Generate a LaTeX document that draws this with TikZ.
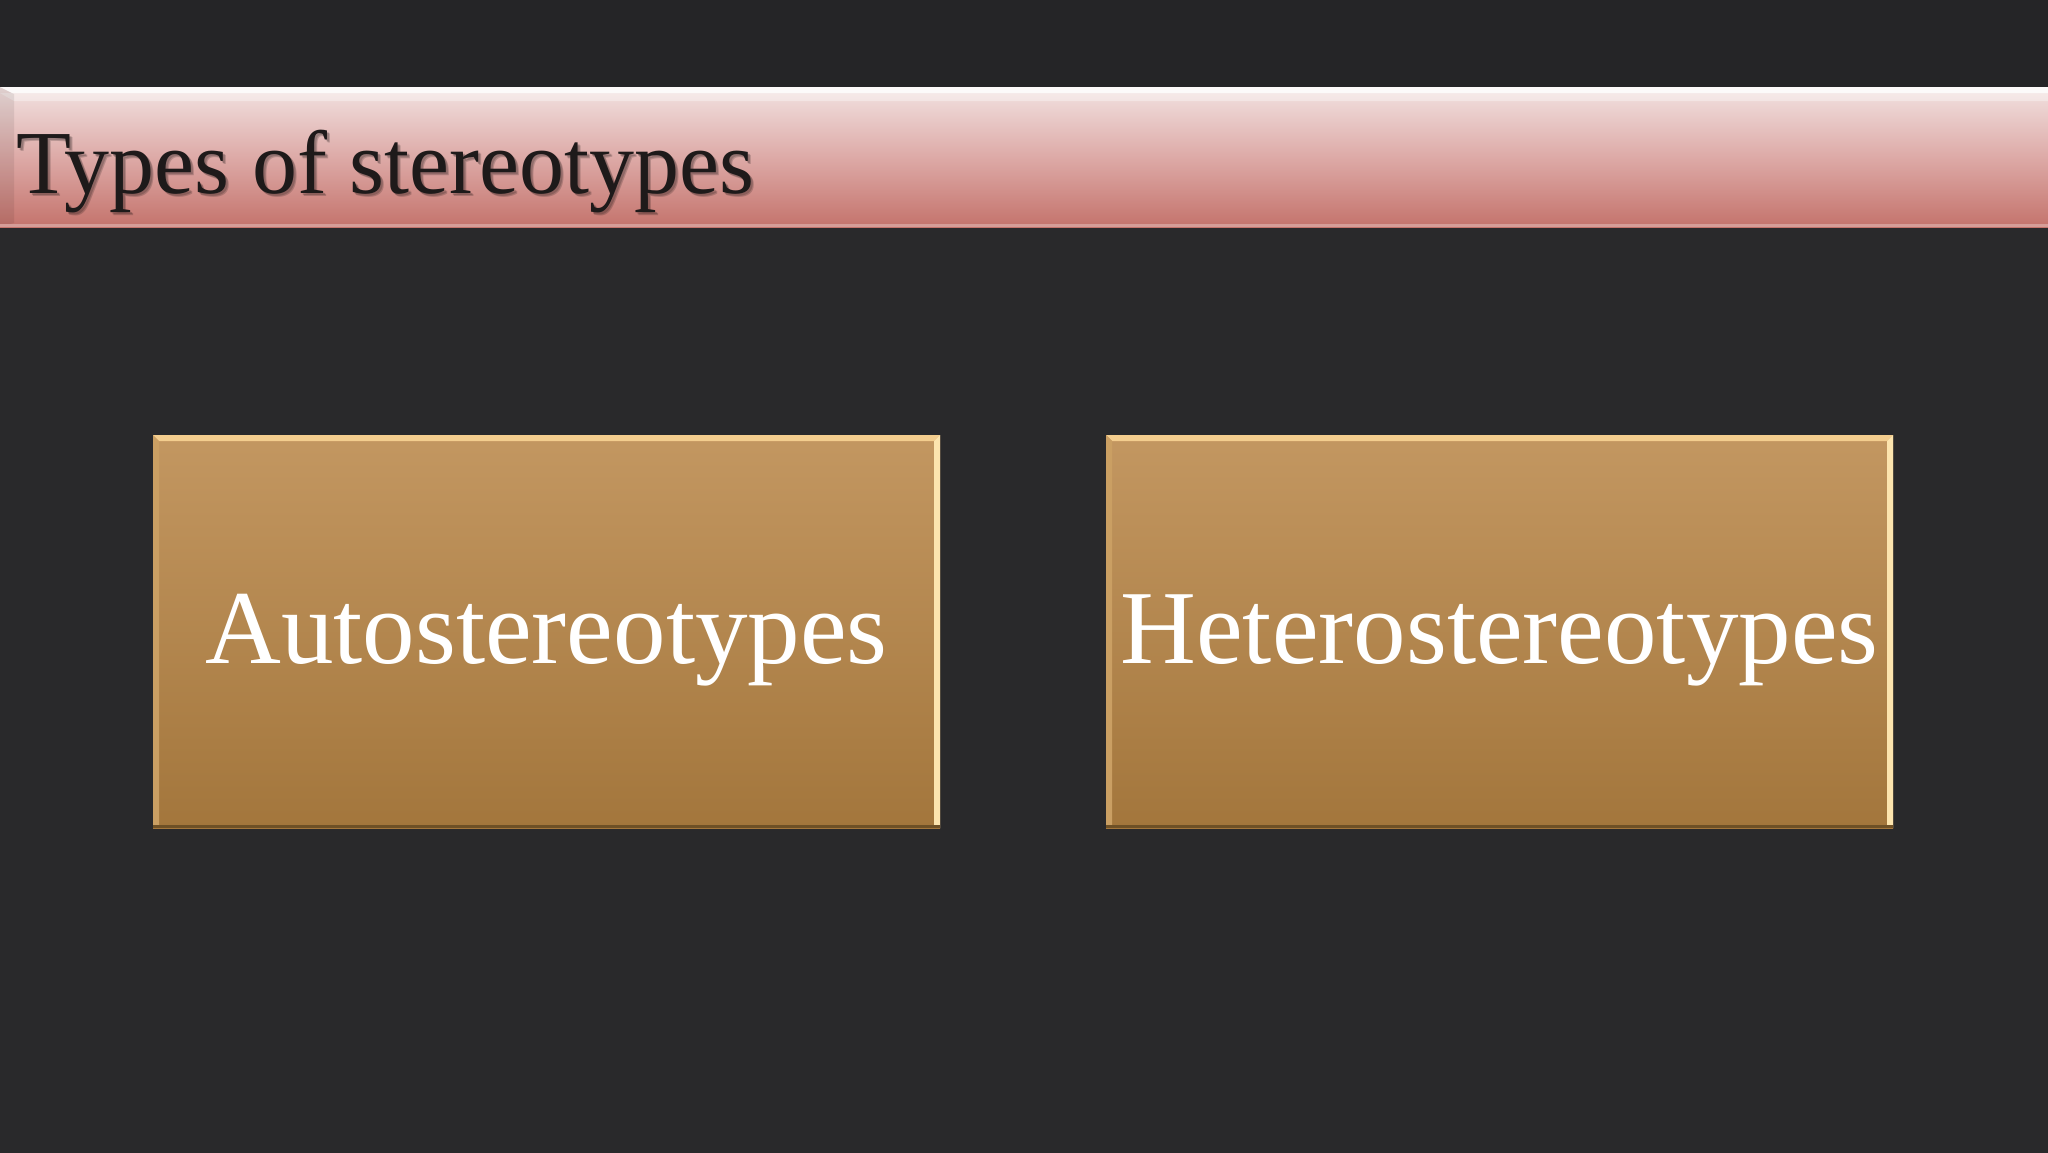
\documentclass[tikz,border=0pt]{standalone}
\usepackage{fontspec}
\setmainfont{Liberation Serif}
\definecolor{bgc}{HTML}{29292B}
\definecolor{bgtop}{HTML}{252527}
\definecolor{bartop}{HTML}{F2E2E1}
\definecolor{barmid}{HTML}{DDAAA7}
\definecolor{barbot}{HTML}{C4736C}
\definecolor{boxtop}{HTML}{C39761}
\definecolor{boxbot}{HTML}{A3763C}
\definecolor{bevlight}{HTML}{F3CD8E}
\definecolor{bevright}{HTML}{FCE4AE}
\definecolor{bevleft}{HTML}{CA9F63}
\definecolor{bevbot}{HTML}{6E5026}
\definecolor{titletext}{HTML}{1E1A1A}
\tikzset{
  tilebox/.style={rectangle, inner sep=0pt, outer sep=0pt,
    minimum width=787pt, minimum height=393pt,
    top color=boxtop, bottom color=boxbot},
  tilelabel/.style={anchor=base, text=white, font=\fontsize{105}{110}\selectfont, inner sep=0pt},
  titlebar/.style={rectangle, inner sep=0pt, outer sep=0pt,
    minimum width=2048pt, minimum height=140pt,
    top color=bartop, bottom color=barbot, middle color=barmid},
  titlelabel/.style={anchor=base west, inner sep=0pt, font=\fontsize{90}{96}\selectfont}
}
\begin{document}
\begin{tikzpicture}[x=1pt,y=-1pt]
\useasboundingbox (0,0) rectangle (2048,1152);
\fill[bgc] (-10,-10) rectangle (2058,1162);
\fill[bgtop] (-10,-10) rectangle (2058,87);
% title bar
\node[titlebar] (bar) at (1024,157) {};
\fill[white, opacity=0.85] (bar.north west) -- (bar.north east) -- ([shift={(0,6)}]bar.north east) -- ([shift={(12,6)}]bar.north west) -- cycle;
\fill[white, opacity=0.35] ([shift={(0,6)}]bar.north west) -- ([shift={(0,6)}]bar.north east) -- ([shift={(0,14)}]bar.north east) -- ([shift={(14,14)}]bar.north west) -- cycle;
\fill[black, opacity=0.08] (bar.north west) -- ([shift={(14,7)}]bar.north west) -- ([shift={(14,-4)}]bar.south west) -- (bar.south west) -- cycle;
\fill[barbot!70!white] ([shift={(0,-3)}]bar.south west) rectangle (bar.south east);
\node[titlelabel, text=black, opacity=0.18] (tshadow) at (19,196) {Types of stereotypes};
\node[titlelabel, text=black, opacity=0.18] (tshadow2) at (18,195) {Types of stereotypes};
\node[titlelabel, text=titletext] (title) at (16,193) {Types of stereotypes};
% boxes
\node[tilebox] (auto) at (546.5,631.5) {};
\node[tilebox] (hetero) at (1499.5,631.5) {};
\foreach \b in {auto,hetero}{
  \fill[bevlight] (\b.north west) -- (\b.north east) -- ([shift={(-6,6)}]\b.north east) -- ([shift={(6,6)}]\b.north west) -- cycle;
  \fill[bevright] (\b.north east) -- (\b.south east) -- ([shift={(-6,-3)}]\b.south east) -- ([shift={(-6,6)}]\b.north east) -- cycle;
  \fill[bevleft] (\b.north west) -- ([shift={(6,6)}]\b.north west) -- ([shift={(6,-3)}]\b.south west) -- (\b.south west) -- cycle;
  \fill[bevbot] ([shift={(0,-3)}]\b.south west) rectangle (\b.south east);
}
\node[tilelabel] (autotext) at (546.5,663) {Autostereotypes};
\node[tilelabel] (heterotext) at (1499.5,663) {Heterostereotypes};
\end{tikzpicture}
\end{document}
